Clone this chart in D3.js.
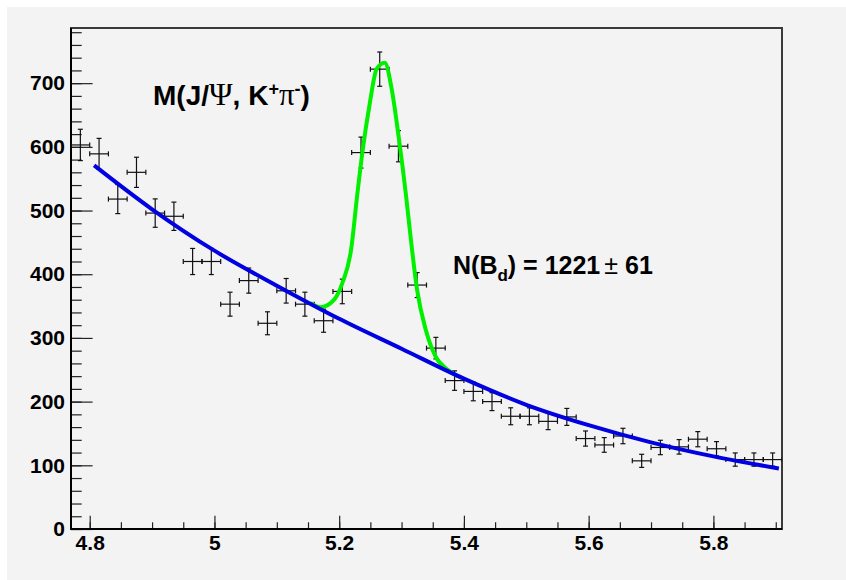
<!DOCTYPE html>
<html><head><meta charset="utf-8">
<script src="https://cdn.jsdelivr.net/npm/d3@7"></script>
<style>body{margin:0;background:#fff} svg{display:block}</style>
</head><body><svg id="c" width="846" height="580"></svg>
<script>
// ---- data ----
const binCenters = [4.785, 4.815, 4.845, 4.875, 4.905, 4.935, 4.965, 4.995, 5.025, 5.055,
  5.085, 5.115, 5.145, 5.175, 5.205, 5.235, 5.265, 5.295, 5.325, 5.355,
  5.385, 5.415, 5.445, 5.475, 5.505, 5.535, 5.565, 5.595, 5.625, 5.655,
  5.685, 5.715, 5.745, 5.775, 5.805, 5.835, 5.865, 5.895];
const counts = [603, 589, 518, 560, 496, 491, 420, 420, 353, 390,
  323, 374, 353, 327, 373, 591, 722, 601, 383, 284,
  233, 216, 200, 177, 177, 169, 176, 142, 132, 146,
  107, 128, 129, 141, 126, 109, 109, 109];
const countErrors = [24.6, 24.3, 22.8, 23.7, 22.3, 22.2, 20.5, 20.5, 18.8, 19.7,
  18.0, 19.3, 18.8, 18.1, 19.3, 24.3, 26.9, 24.5, 19.6, 16.9,
  15.3, 14.7, 14.1, 13.3, 13.3, 13.0, 13.3, 11.9, 11.5, 12.1,
  10.3, 11.3, 11.4, 11.9, 11.2, 10.4, 10.4, 10.4];
const binHalfWidth = 0.015;
const bkgX = [4.807, 4.90, 5.00, 5.10, 5.20, 5.30, 5.40, 5.50, 5.60, 5.70, 5.80, 5.905];
const bkgY = [571, 502, 437, 382, 330, 283, 236, 195, 163, 136, 114, 95];
const totX = [5.154, 5.170, 5.192, 5.205, 5.219, 5.229, 5.237, 5.249, 5.260, 5.273,
  5.284, 5.296, 5.307, 5.315, 5.325, 5.339, 5.355, 5.374, 5.390];
const totY = [355, 348, 360, 386, 438, 525, 590, 668, 722, 732,
  692, 611, 525, 454, 375, 312, 270, 250, 240];
const xTicks = [4.8, 5.0, 5.2, 5.4, 5.6, 5.8];
const xTickLabels = ["4.8", "5", "5.2", "5.4", "5.6", "5.8"];
const yTicks = [0, 100, 200, 300, 400, 500, 600, 700];
const yTickLabels = ["0", "100", "200", "300", "400", "500", "600", "700"];
const xDomain = [4.77, 5.91];
const yDomain = [0, 786.6];

// ---- drawing ----
const svg = d3.select("#c");
svg.append("rect").attr("x", 7).attr("y", 7).attr("width", 839).attr("height", 573).attr("fill", "#f3f3f3");
const L = 71, R = 782, T = 28, B = 529;
const x = d3.scaleLinear().domain(xDomain).range([L, R]);
const y = d3.scaleLinear().domain(yDomain).range([B, T]);
const font = "'Liberation Sans', Arial, Helvetica, sans-serif";

svg.append("defs").append("clipPath").attr("id", "clip")
  .append("rect").attr("x", L).attr("y", T).attr("width", R - L).attr("height", B - T);

// frame
svg.append("rect").attr("x", L).attr("y", T).attr("width", R - L).attr("height", B - T)
  .attr("fill", "none").attr("stroke", "#3a3a3a").attr("stroke-width", 2);

function styleAxis(g) {
  g.select(".domain").remove();
  g.selectAll("line").attr("stroke", "#222").attr("stroke-width", 1.2);
  g.selectAll("text").attr("font-family", font).attr("font-weight", "bold")
    .attr("font-size", 21).attr("fill", "#000");
}

// x axis
const xMinor = x.ticks(22);
svg.append("g").attr("transform", `translate(0,${B})`)
  .call(d3.axisBottom(x).tickValues(xMinor).tickSize(-6.7).tickFormat(""))
  .call(styleAxis);
svg.append("g").attr("transform", `translate(0,${B})`)
  .call(d3.axisBottom(x).tickValues(xTicks).tickSize(-13.3).tickPadding(6)
    .tickFormat((d, i) => xTickLabels[i]))
  .call(styleAxis);

// y axis
const yMinor = y.ticks(40);
svg.append("g").attr("transform", `translate(${L},0)`)
  .call(d3.axisLeft(y).tickValues(yMinor).tickSize(-10.7).tickFormat(""))
  .call(styleAxis);
svg.append("g").attr("transform", `translate(${L},0)`)
  .call(d3.axisLeft(y).tickValues(yTicks).tickSize(-21.6).tickPadding(6)
    .tickFormat((d, i) => yTickLabels[i]))
  .call(styleAxis);

// axis lines
svg.append("line").attr("x1", L).attr("x2", L).attr("y1", T).attr("y2", B + 1)
  .attr("stroke", "#000").attr("stroke-width", 2);
svg.append("line").attr("x1", L - 1).attr("x2", R).attr("y1", B).attr("y2", B)
  .attr("stroke", "#000").attr("stroke-width", 2);

// data points with error bars
const pts = binCenters.map((c, i) => ({ c, v: counts[i], e: countErrors[i] }));
const pg = svg.append("g").attr("clip-path", "url(#clip)")
  .attr("stroke", "#111").attr("stroke-width", 1.2);
const cap = 2.5;
pts.forEach(p => {
  const cx = x(p.c), cy = y(p.v);
  const x0 = x(p.c - binHalfWidth), x1 = x(p.c + binHalfWidth);
  const y0 = y(p.v - p.e), y1 = y(p.v + p.e);
  pg.append("line").attr("x1", cx).attr("x2", cx).attr("y1", y0).attr("y2", y1);
  pg.append("line").attr("x1", x0).attr("x2", x1).attr("y1", cy).attr("y2", cy);
  pg.append("line").attr("x1", cx - cap).attr("x2", cx + cap).attr("y1", y0).attr("y2", y0);
  pg.append("line").attr("x1", cx - cap).attr("x2", cx + cap).attr("y1", y1).attr("y2", y1);
  pg.append("line").attr("x1", x0).attr("x2", x0).attr("y1", cy - cap).attr("y2", cy + cap);
  pg.append("line").attr("x1", x1).attr("x2", x1).attr("y1", cy - cap).attr("y2", cy + cap);
});

// fit curves
const line = d3.line().x(d => x(d[0])).y(d => y(d[1])).curve(d3.curveMonotoneX);
svg.append("path").datum(totX.map((v, i) => [v, totY[i]]))
  .attr("d", line).attr("fill", "none").attr("stroke", "#00f000").attr("stroke-width", 4)
  .attr("stroke-linejoin", "miter");
svg.append("path").datum(bkgX.map((v, i) => [v, bkgY[i]]))
  .attr("d", line).attr("fill", "none").attr("stroke", "#0000e0").attr("stroke-width", 4);

// labels
const serif = "'Liberation Serif', 'DejaVu Serif', serif";
const t1 = svg.append("text").attr("x", 153).attr("y", 105)
  .attr("font-family", font).attr("font-weight", "bold").attr("font-size", 28).attr("fill", "#000");
t1.append("tspan").text("M(J/");
t1.append("tspan").attr("font-family", serif).attr("font-weight", "normal").attr("font-size", 32).text("Ψ");
t1.append("tspan").text(", K");
t1.append("tspan").attr("font-size", 18).attr("dy", -10).text("+");
t1.append("tspan").attr("font-family", serif).attr("font-weight", "normal").attr("font-size", 31).attr("dy", 10).text("π");
t1.append("tspan").attr("font-size", 18).attr("dy", -10).text("-");
t1.append("tspan").attr("dy", 10).text(")");

const t2 = svg.append("text").attr("x", 453).attr("y", 274)
  .attr("font-family", font).attr("font-weight", "bold").attr("font-size", 25).attr("fill", "#000");
t2.append("tspan").text("N(B");
t2.append("tspan").attr("font-size", 17).attr("dy", 7).text("d");
t2.append("tspan").attr("dy", -7).text(") = 1221");
t2.append("tspan").attr("font-weight", "normal").attr("dx", 4).text("±");
t2.append("tspan").attr("dx", 7).text("61");
</script>
</body></html>
